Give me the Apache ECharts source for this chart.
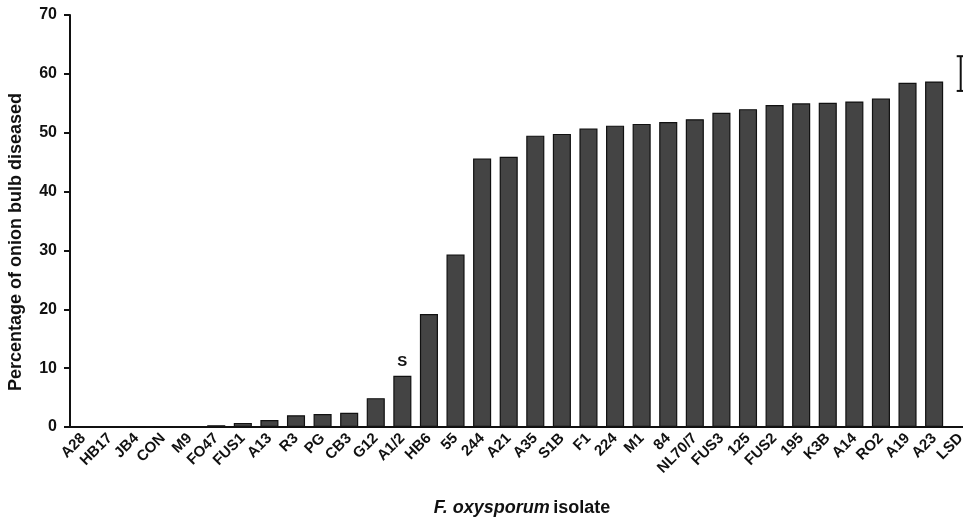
<!DOCTYPE html>
<html>
<head>
<meta charset="utf-8">
<script src="https://cdn.jsdelivr.net/npm/echarts@6/dist/echarts.min.js"></script>
<style>
  html, body { margin: 0; padding: 0; background: #fff; }
  #chart { width: 963px; height: 517px; }
</style>
</head>
<body>
<div id="chart"></div>
<script>
// isolates, in plotted order (LSD is the error bar slot on the right)
var isolates = ['A28', 'HB17', 'JB4', 'CON', 'M9', 'FO47', 'FUS1', 'A13', 'R3', 'PG', 'CB3', 'G12',
  'A1/2', 'HB6', '55', '244', 'A21', 'A35', 'S1B', 'F1', '224', 'M1', '84', 'NL70/7', 'FUS3', '125',
  'FUS2', '195', 'K3B', 'A14', 'RO2', 'A19', 'A23', 'LSD'];
// percentage of onion bulb diseased
var diseased = [0, 0, 0, 0, 0, 0.3, 0.7, 1.2, 2.0, 2.2, 2.4, 4.9,
  8.7, 19.2, 29.3, 45.6, 45.9, 49.5, 49.8, 50.7, 51.2, 51.5, 51.8, 52.3, 53.4, 54.0,
  54.7, 55.0, 55.1, 55.3, 55.8, 58.5, 58.7, null];
// LSD bar drawn from low to high
var lsdLow = 57.1;
var lsdHigh = 63.0;
var yTicks = [0, 10, 20, 30, 40, 50, 60, 70];

var font = 'Liberation Sans, Arial, sans-serif';

var barData = diseased.map(function (v, i) {
  if (isolates[i] === 'A1/2') {
    return {
      value: v,
      label: { show: true, position: 'top', distance: 6, formatter: 'S',
        fontFamily: font, fontWeight: 'bold', fontSize: 15, color: '#111' }
    };
  }
  return v;
});

var chart = echarts.init(document.getElementById('chart'));
chart.setOption({
  animation: false,
  backgroundColor: '#fff',
  grid: { left: 70, top: 15, width: 904, height: 412, outerBoundsMode: 'none', containLabel: false },
  xAxis: {
    type: 'category',
    data: isolates,
    name: '{i|F. oxysporum} {n|isolate}',
    nameLocation: 'middle',
    nameGap: 72,
    nameTextStyle: {
      rich: {
        i: { fontFamily: font, fontWeight: 'bold', fontStyle: 'italic', fontSize: 18, color: '#111' },
        n: { fontFamily: font, fontWeight: 'bold', fontSize: 18, color: '#111' }
      }
    },
    axisLine: { lineStyle: { color: '#111', width: 2 } },
    axisTick: { length: 6, lineStyle: { color: '#111', width: 2 } },
    axisLabel: { rotate: 45, interval: 0, margin: 9, fontFamily: font, fontWeight: 'bold',
      fontSize: 15, color: '#111' }
  },
  yAxis: {
    type: 'value',
    min: yTicks[0],
    max: yTicks[yTicks.length - 1],
    interval: 10,
    name: 'Percentage of onion bulb diseased',
    nameLocation: 'middle',
    nameGap: 45,
    nameTextStyle: { fontFamily: font, fontWeight: 'bold', fontSize: 18, color: '#111',
      padding: [0, 42, 0, 0] },
    axisLine: { show: true, lineStyle: { color: '#111', width: 2 } },
    axisTick: { show: true, length: 6, lineStyle: { color: '#111', width: 2 } },
    axisLabel: { margin: 13, fontFamily: font, fontWeight: 'bold', fontSize: 16, color: '#111' },
    splitLine: { show: false }
  },
  series: [
    {
      type: 'bar',
      data: barData,
      barCategoryGap: '32%',
      itemStyle: { color: '#444', borderColor: '#111', borderWidth: 1.2 }
    },
    {
      type: 'custom',
      data: [[isolates.length - 1, lsdLow, lsdHigh]],
      renderItem: function (params, api) {
        var lo = api.coord([api.value(0), api.value(1)]);
        var hi = api.coord([api.value(0), api.value(2)]);
        var w = 4;
        var st = { stroke: '#111', lineWidth: 2 };
        return {
          type: 'group',
          children: [
            { type: 'line', shape: { x1: lo[0], y1: lo[1], x2: hi[0], y2: hi[1] }, style: st },
            { type: 'line', shape: { x1: lo[0] - w, y1: lo[1], x2: lo[0] + w, y2: lo[1] }, style: st },
            { type: 'line', shape: { x1: hi[0] - w, y1: hi[1], x2: hi[0] + w, y2: hi[1] }, style: st }
          ]
        };
      }
    }
  ]
});
</script>
</body>
</html>
